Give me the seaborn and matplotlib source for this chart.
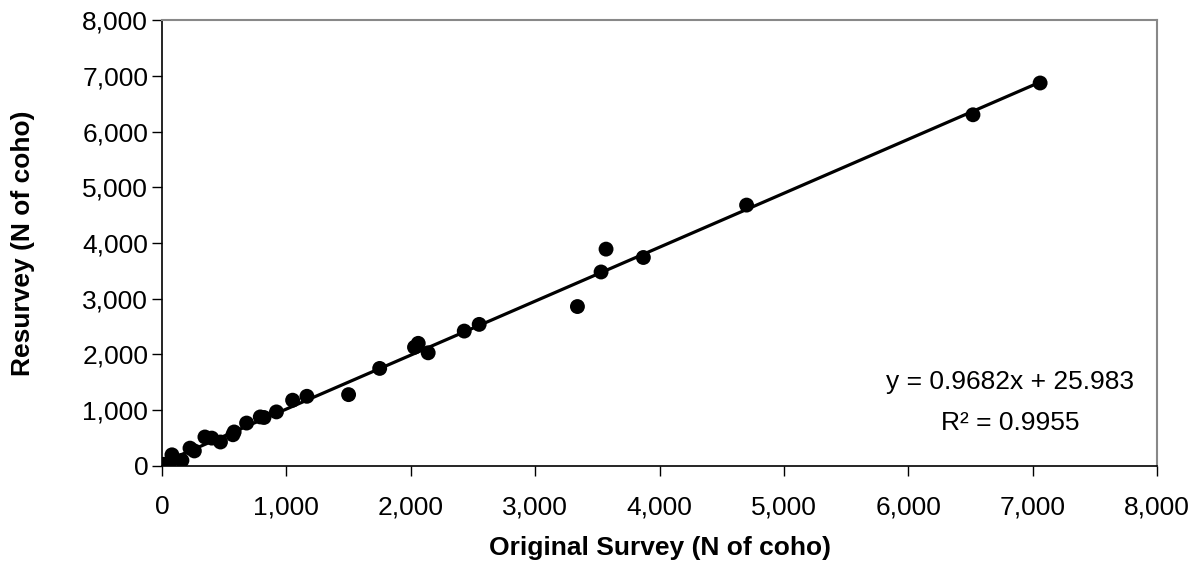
import numpy as np
import pandas as pd
import seaborn as sns
import matplotlib.pyplot as plt
from matplotlib.ticker import FuncFormatter

# Relevé original vs second relevé (nombre de coho)
original = [0, 5, 15, 30, 60, 80, 160, 225, 260, 345, 400, 470, 570, 580,
            680, 790, 820, 920, 1050, 1165, 1500, 1750, 2030, 2060, 2140,
            2430, 2550, 3340, 3530, 3570, 3870, 4700, 6520, 7060]
resurvey = [0, 10, 30, 5, 50, 200, 100, 320, 270, 520, 500, 430, 560, 610,
            770, 880, 870, 970, 1180, 1250, 1280, 1750, 2130, 2200, 2030,
            2420, 2540, 2860, 3480, 3890, 3740, 4680, 6300, 6870]

equation = "y = 0.9682x + 25.983"
r_squared = "R² = 0.9955"
x_label = "Original Survey (N of coho)"
y_label = "Resurvey (N of coho)"

df = pd.DataFrame({'original': original, 'resurvey': resurvey})

sns.set_style('white')
plt.rcParams['font.family'] = ['Liberation Sans', 'DejaVu Sans']
plt.rcParams['text.color'] = 'black'
plt.rcParams['axes.labelcolor'] = 'black'
plt.rcParams['xtick.color'] = 'black'
plt.rcParams['ytick.color'] = 'black'

fig = plt.figure(figsize=(12.01, 5.75), dpi=100)
ax = fig.add_axes([0.1349, 0.1896, 0.8285, 0.7756])

sns.regplot(data=df, x='original', y='resurvey', ax=ax, ci=None,
            scatter_kws={'s': 115, 'color': 'black', 'edgecolors': 'none', 'alpha': 1},
            line_kws={'color': 'black', 'lw': 2.3}, truncate=True)

ax.set_xlim(0, 8000)
ax.set_ylim(0, 8000)
ax.set_xticks(np.arange(0, 8001, 1000))
ax.set_yticks(np.arange(0, 8001, 1000))
fmt = FuncFormatter(lambda v, p: f"{int(v):,}")
ax.xaxis.set_major_formatter(fmt)
ax.yaxis.set_major_formatter(fmt)
ax.tick_params(axis='both', direction='out', length=7, width=1, colors='black',
               labelsize=19, bottom=True, left=True)
ax.tick_params(axis='x', pad=14)
ax.tick_params(axis='y', pad=3)

for side in ['left', 'bottom']:
    ax.spines[side].set_color('black')
    ax.spines[side].set_linewidth(1.2)
for side in ['top', 'right']:
    ax.spines[side].set_color('#888888')
    ax.spines[side].set_linewidth(1.5)

ax.set_xlabel(x_label, fontsize=19, fontweight='bold', va='center', color='black')
ax.set_ylabel(y_label, fontsize=19, fontweight='bold', va='center', color='black')
ax.xaxis.set_label_coords(0.5, -0.184)
ax.yaxis.set_label_coords(-0.14, 0.5)

ax.text(6820, 1510, equation, ha='center', va='center', fontsize=19, color='black')
ax.text(6820, 770, r_squared, ha='center', va='center', fontsize=19, color='black')

plt.savefig("out.png", dpi=100)
